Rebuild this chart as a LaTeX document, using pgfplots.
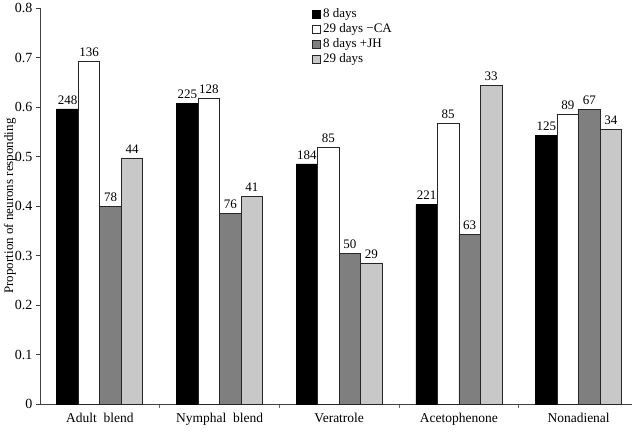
\documentclass[border=0pt]{standalone}
\usepackage{pgfplots}
\pgfplotsset{compat=1.18}
\usepackage{pgfplotstable}
\usepackage{fontspec}
\setmainfont{Liberation Serif}

\definecolor{darkbar}{HTML}{7F7F7F}
\definecolor{lightbar}{HTML}{C8C8C8}

% proportion of neurons responding, with number of neurons tested (n)
\pgfplotstableread{
x y n
0 0.596 248
1 0.608 225
2 0.485 184
3 0.403 221
4 0.542 125
}\eightdays
\pgfplotstableread{
x y n
0 0.692 136
1 0.618 128
2 0.518 85
3 0.566 85
4 0.586 89
}\twentyninecA
\pgfplotstableread{
x y n
0 0.400 78
1 0.385 76
2 0.305 50
3 0.342 63
4 0.595 67
}\eightjh
\pgfplotstableread{
x y n
0 0.497 44
1 0.420 41
2 0.285 29
3 0.644 33
4 0.554 34
}\twentynine

\begin{document}
\begin{tikzpicture}
\begin{axis}[
  name=ax,
  scale only axis,
  width=592pt, height=396pt,
  xmin=-0.5, xmax=4.446,
  ymin=0, ymax=0.8,
  ybar=0pt, bar width=21.5pt,
  axis x line*=bottom, axis y line*=left,
  axis line style={black!75, line width=0.8pt},
  xtick={0,1,2,3,4},
  xticklabels={Adult~~blend, Nymphal~~blend, Veratrole, Acetophenone, Nonadienal},
  major x tick style={draw=none},
  minor xtick={0.5,1.5,2.5,3.5},
  minor x tick style={black!60, line width=0.6pt},
  minor tick length=4pt,
  ytick={0,0.1,...,0.8},
  major y tick style={black!75, line width=0.6pt},
  major tick length=4pt,
  tick align=outside,
  yticklabel style={/pgf/number format/fixed, /pgf/number format/precision=1,
    font=\fontsize{14}{14}\selectfont},
  /pgf/number format/assume math mode=true,
  xticklabel style={yshift=-2pt, font=\fontsize{13.5}{13.5}\selectfont},
  ylabel={Proportion of neurons responding},
  every axis y label/.style={at={(axis description cs:-0.0507,0.5)}, rotate=90, anchor=center,
    font=\fontsize{13}{13}\selectfont},
  nodes near coords,
  point meta=explicit symbolic,
  every node near coord/.append style={font=\fontsize{13}{13}\selectfont, yshift=1pt},
  legend style={draw=none, fill=none, at={(rel axis cs:0.4595,1)}, anchor=north west,
    yshift=1pt, inner sep=0pt, row sep=1pt,
    font=\fontsize{13}{13}\selectfont,
    nodes={inner sep=1pt, text height=9pt, text depth=3pt},
    /tikz/every even column/.append style={column sep=0pt}},
  legend cell align=left,
  legend image code/.code={\draw[#1, line width=0.6pt] (0.3pt,-3.7pt) rectangle (7.7pt,3.7pt); \path (9.5pt,0pt);},
]
\addplot[fill=black, draw=black, line width=0.8pt] table[x=x, y=y, meta=n] {\eightdays};
\addplot[fill=white, draw=black!85, line width=0.8pt] table[x=x, y=y, meta=n] {\twentyninecA};
\addplot[fill=darkbar, draw=black!85, line width=0.8pt] table[x=x, y=y, meta=n] {\eightjh};
\addplot[fill=lightbar, draw=black!85, line width=0.8pt] table[x=x, y=y, meta=n] {\twentynine};
\legend{8 days, 29 days −CA, 8 days +JH, 29 days}
\end{axis}
\pgfresetboundingbox
\path ([shift={(-40pt,-28pt)}]ax.south west) rectangle ([shift={(592pt,404pt)}]ax.south west);
\end{tikzpicture}
\end{document}
